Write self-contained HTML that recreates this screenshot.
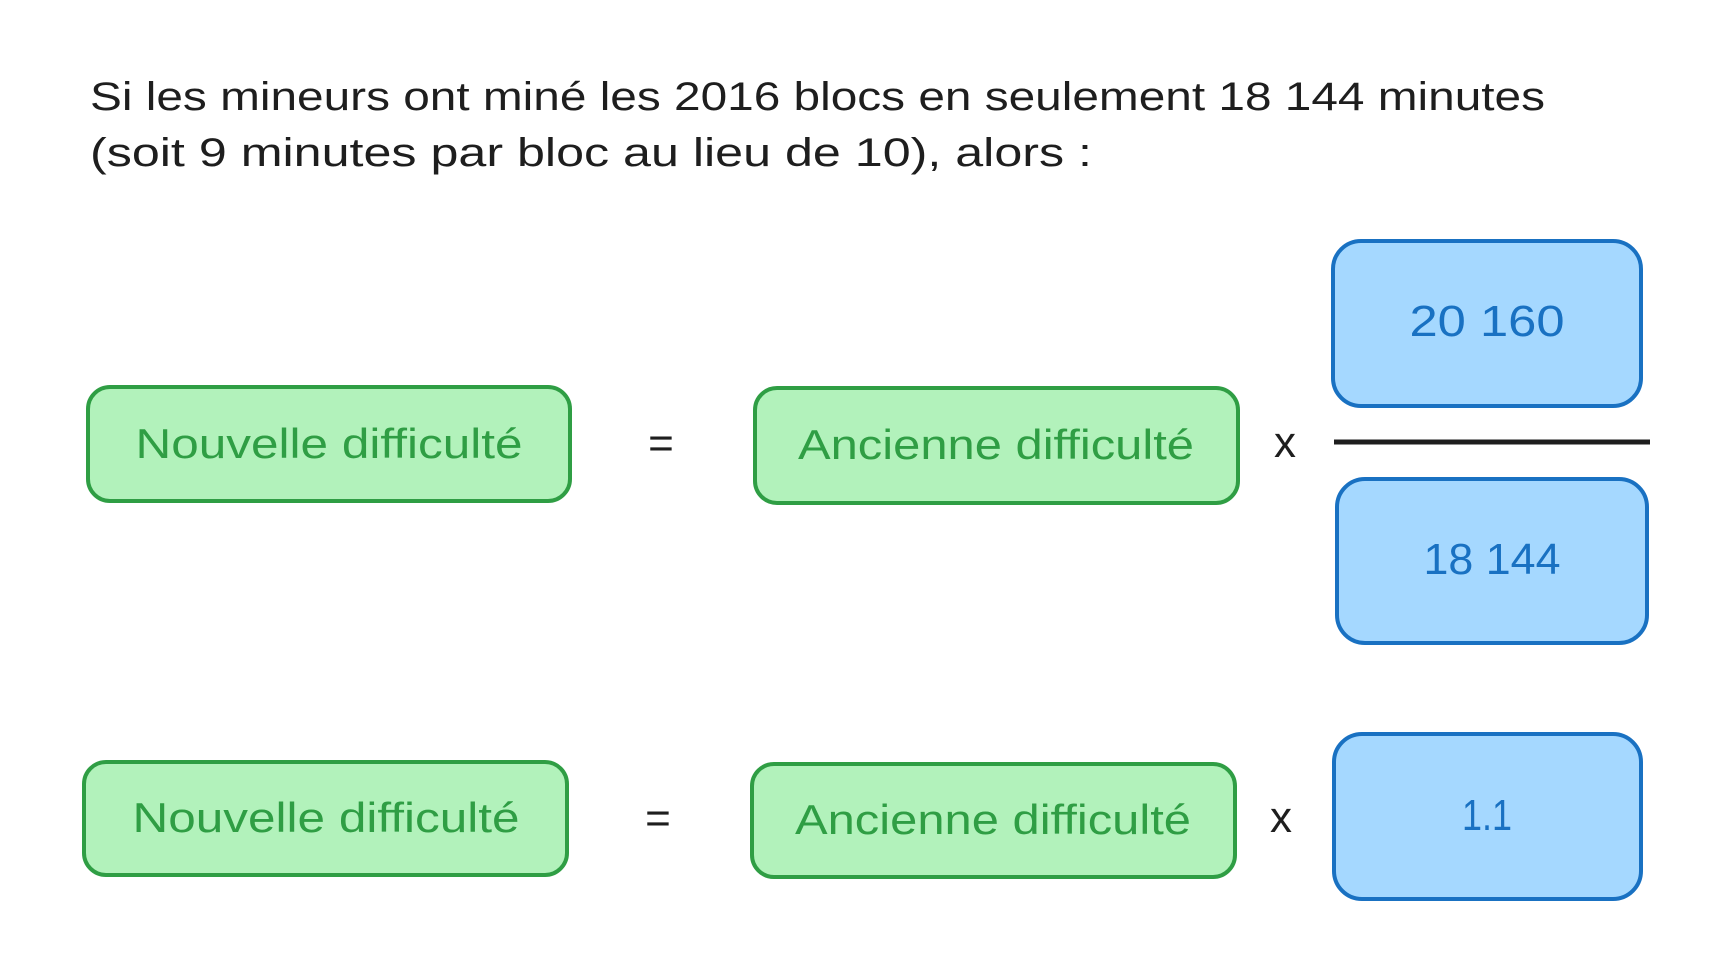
<!DOCTYPE html>
<html><head><meta charset="utf-8"><style>html,body{margin:0;padding:0;background:#fff}svg{display:block}</style></head>
<body>
<svg width="1713" height="970" viewBox="0 0 1713 970" xmlns="http://www.w3.org/2000/svg" font-family="Liberation Sans, sans-serif">
<rect width="1713" height="970" fill="#fff"/>
<g fill="#1e1e1e" font-size="40">
<text x="90" y="110" textLength="1455" lengthAdjust="spacingAndGlyphs">Si les mineurs ont miné les 2016 blocs en seulement 18 144 minutes</text>
<text x="90" y="166" textLength="1002" lengthAdjust="spacingAndGlyphs">(soit 9 minutes par bloc au lieu de 10), alors :</text>
</g>
<g fill="#b2f2bb" stroke="#2f9e44" stroke-width="4">
<rect x="88" y="387" width="482" height="114" rx="22"/>
<rect x="755" y="388" width="483" height="115" rx="22"/>
<rect x="84" y="762" width="483" height="113" rx="22"/>
<rect x="752" y="764" width="483" height="113" rx="22"/>
</g>
<g fill="#a5d8ff" stroke="#1971c2" stroke-width="4">
<rect x="1333" y="241" width="308" height="165" rx="28"/>
<rect x="1337" y="479" width="310" height="164" rx="28"/>
<rect x="1334" y="734" width="307" height="165" rx="28"/>
</g>
<line x1="1334" y1="442" x2="1650" y2="442" stroke="#1e1e1e" stroke-width="5"/>
<g fill="#2f9e44" font-size="42" text-anchor="middle">
<text x="329" y="458" textLength="387" lengthAdjust="spacingAndGlyphs">Nouvelle difficulté</text>
<text x="996" y="459" textLength="396" lengthAdjust="spacingAndGlyphs">Ancienne difficulté</text>
<text x="326" y="832" textLength="387" lengthAdjust="spacingAndGlyphs">Nouvelle difficulté</text>
<text x="993" y="834" textLength="396" lengthAdjust="spacingAndGlyphs">Ancienne difficulté</text>
</g>
<g fill="#1971c2" font-size="44" text-anchor="middle">
<text x="1487" y="336" textLength="155" lengthAdjust="spacingAndGlyphs">20 160</text>
<text x="1492" y="574" textLength="137" lengthAdjust="spacingAndGlyphs">18 144</text>
<text x="1487" y="830" textLength="50" lengthAdjust="spacingAndGlyphs">1.1</text>
</g>
<g fill="#1e1e1e" font-size="44" text-anchor="middle">
<text x="661" y="458">=</text>
<text x="1285" y="457">x</text>
<text x="658" y="833">=</text>
<text x="1281" y="832">x</text>
</g>
</svg>
</body></html>
